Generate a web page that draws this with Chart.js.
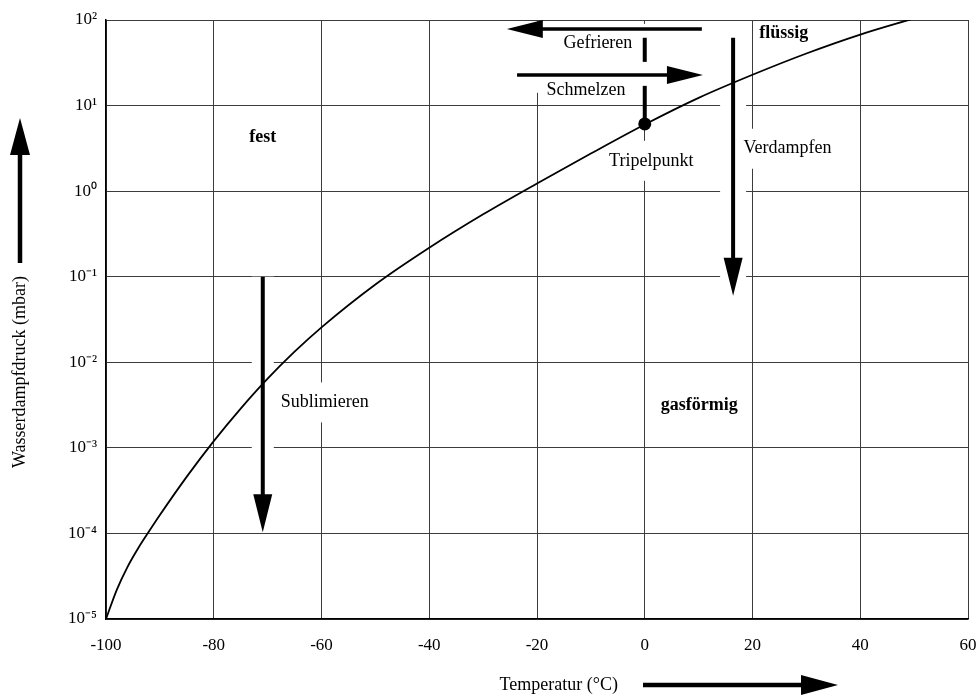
<!DOCTYPE html>
<html>
<head>
<meta charset="utf-8">
<script src="https://cdn.jsdelivr.net/npm/chart.js@4"></script>
<style>
  html, body { margin: 0; padding: 0; background: #fff; overflow: hidden; }
  #wrap { width: 980px; height: 700px; }
  canvas { display: block; }
</style>
</head>
<body>
<div id="wrap"><canvas id="chart-dampfdruck" width="980" height="700"></canvas></div>
<script>
// Dampfdruckkurve von Wasser/Eis
const temperaturen = [-100, -98, -96, -94, -92, -90, -85, -80, -75, -70, -65, -60, -50, -40, -30, -20, -10, 0, 10, 20, 30, 40, 50];
const druck = [1.0e-5, 2.19e-5, 4.07e-5, 6.76e-5, 1.06e-4, 1.64e-4, 4.61e-4, 1.20e-3, 2.88e-3, 6.44e-3, 0.0133, 0.0256, 0.0811, 0.218, 0.536, 1.23, 2.75, 6.01, 12.3, 22.9, 40.6, 67.5, 104.5];
const xTicks = [-100, -80, -60, -40, -20, 0, 20, 40, 60];
const yTicks = [1e-5, 1e-4, 1e-3, 1e-2, 1e-1, 1e0, 1e1, 1e2];
const tripelpunkt = { t: 0, p: 6.1 };

const SERIF = "'Liberation Serif', 'Times New Roman', serif";

// Beschriftungen im Diagramm (Datenkoordinaten)
const beschriftungen = [
    { text: 'fest', t: -70.9, p: 4.3, bold: true },
    { text: 'flüssig', t: 25.8, p: 70.5, bold: true },
    { text: 'gasförmig', t: 10.1, p: 3.1e-3, bold: true },
    { text: 'Gefrieren', t: -8.7, p: 54, box: 6 },
    { text: 'Schmelzen', t: -10.9, p: 15.2, box: 6 },
    { text: 'Tripelpunkt', t: 1.2, p: 2.26, box: 20 },
    { text: 'Verdampfen', t: 26.5, p: 3.13, box: 20 },
    { text: 'Sublimieren', t: -59.4, p: 3.4e-3, box: 20 }
];

// Pfeile: von -> nach, halo = weisser Rand der das Gitter unterbricht
const pfeile = [
    { von: [10.6, 78.5], nach: [-25.6, 78.5] },
    { von: [-23.7, 22.8], nach: [10.8, 22.8] },
    { von: [16.4, 62], nach: [16.4, 0.06], halo: 13 },
    { von: [-70.9, 0.1], nach: [-70.9, 1.03e-4], halo: 11 }
];

// dicke Stücke der 0-Linie zwischen den Pfeilen
const nullLinie = [[62, 32.4], [17.0, 6.1]];
const weissesFeld = { t0: -26.9, t1: 13, p0: 90, p1: 14.1 };

function hoch(v) {
    const sup = { '-': '⁻', '0': '⁰', '1': '¹', '2': '²', '3': '³', '4': '⁴', '5': '⁵' };
    const e = String(Math.round(Math.log10(v)));
    return '10' + e.split('').map(c => sup[c]).join('');
}

function pfeil(ctx, x0, y0, x1, y1, breite, kopfLen, kopfHalb) {
    const dx = x1 - x0, dy = y1 - y0;
    const len = Math.hypot(dx, dy);
    const ux = dx / len, uy = dy / len;
    const bx = x1 - ux * kopfLen, by = y1 - uy * kopfLen;
    ctx.strokeStyle = '#000';
    ctx.fillStyle = '#000';
    ctx.lineWidth = breite;
    ctx.beginPath();
    ctx.moveTo(x0, y0);
    ctx.lineTo(bx + ux * 2, by + uy * 2);
    ctx.stroke();
    ctx.beginPath();
    ctx.moveTo(x1, y1);
    ctx.lineTo(bx - uy * kopfHalb, by + ux * kopfHalb);
    ctx.lineTo(bx + uy * kopfHalb, by - ux * kopfHalb);
    ctx.closePath();
    ctx.fill();
}

const annotationen = {
    id: 'annotationen',
    beforeDatasetsDraw(chart) {
        const ctx = chart.ctx;
        const xs = chart.scales.x, ys = chart.scales.y;
        ctx.save();

        // weisses Feld hinter Gefrieren/Schmelzen
        const fx0 = xs.getPixelForValue(weissesFeld.t0), fx1 = xs.getPixelForValue(weissesFeld.t1);
        const fy0 = ys.getPixelForValue(weissesFeld.p0), fy1 = ys.getPixelForValue(weissesFeld.p1);
        ctx.fillStyle = '#fff';
        ctx.fillRect(fx0, fy0, fx1 - fx0, fy1 - fy0);

        // Halos
        pfeile.forEach(a => {
            if (!a.halo) return;
            const x = xs.getPixelForValue(a.von[0]);
            const y0 = ys.getPixelForValue(a.von[1]);
            const y1 = ys.getPixelForValue(a.nach[1]);
            ctx.fillStyle = '#fff';
            ctx.fillRect(x - a.halo, y0, a.halo * 2, y1 - y0 - 6);
        });

        // Texte
        ctx.textAlign = 'center';
        ctx.textBaseline = 'middle';
        beschriftungen.forEach(b => {
            const x = xs.getPixelForValue(b.t), y = ys.getPixelForValue(b.p);
            ctx.font = (b.bold ? 'bold 18px ' : '18px ') + SERIF;
            if (b.box) {
                const w = ctx.measureText(b.text).width;
                ctx.fillStyle = '#fff';
                ctx.fillRect(x - w / 2 - 4, y - b.box, w + 8, b.box * 2);
            }
            ctx.fillStyle = '#000';
            ctx.fillText(b.text, x, y);
        });

        // dicke 0-Linie
        ctx.strokeStyle = '#000';
        ctx.lineWidth = 4;
        const x0 = xs.getPixelForValue(tripelpunkt.t);
        nullLinie.forEach(([a, b]) => {
            ctx.beginPath();
            ctx.moveTo(x0, ys.getPixelForValue(a));
            ctx.lineTo(x0, ys.getPixelForValue(b));
            ctx.stroke();
        });

        // Pfeile
        pfeile.forEach(a => {
            const vertikal = a.von[0] === a.nach[0];
            pfeil(ctx,
                xs.getPixelForValue(a.von[0]), ys.getPixelForValue(a.von[1]),
                xs.getPixelForValue(a.nach[0]), ys.getPixelForValue(a.nach[1]),
                vertikal ? 4 : 3.5, vertikal ? 38 : 36, vertikal ? 9.5 : 9);
        });
        ctx.restore();
    },
    afterDraw(chart) {
        const ctx = chart.ctx;
        ctx.save();
        ctx.fillStyle = '#000';
        ctx.font = '18px ' + SERIF;
        ctx.textBaseline = 'middle';

        // x-Achsentitel + Pfeil
        ctx.textAlign = 'right';
        ctx.fillText('Temperatur (°C)', 618, 685);
        pfeil(ctx, 643, 685, 838, 685, 4.5, 37, 10);

        // y-Achsentitel + Pfeil
        ctx.save();
        ctx.translate(20, 372);
        ctx.rotate(-Math.PI / 2);
        ctx.textAlign = 'center';
        ctx.fillText('Wasserdampfdruck (mbar)', 0, 0);
        ctx.restore();
        pfeil(ctx, 20, 263, 20, 118, 4.5, 37, 10);
        ctx.restore();
    }
};

const gitter = { color: '#3c3c3c', lineWidth: 1, drawTicks: false };

new Chart(document.getElementById('chart-dampfdruck'), {
    type: 'line',
    data: {
        datasets: [{
            data: temperaturen.map((t, i) => ({ x: t, y: druck[i] })),
            borderColor: '#000',
            borderWidth: 1.8,
            pointRadius: 0,
            cubicInterpolationMode: 'monotone',
            fill: false
        }, {
            data: [{ x: tripelpunkt.t, y: tripelpunkt.p }],
            showLine: false,
            pointRadius: 6.5,
            pointBackgroundColor: '#000',
            pointBorderWidth: 0
        }]
    },
    options: {
        responsive: false,
        animation: false,
        layout: { autoPadding: false, padding: { top: 20, right: 12, bottom: 0, left: 0 } },
        plugins: {
            legend: { display: false },
            tooltip: { enabled: false }
        },
        scales: {
            x: {
                type: 'linear',
                min: -100,
                max: 60,
                afterBuildTicks: s => { s.ticks = xTicks.map(v => ({ value: v })); },
                afterFit: s => { s.height = 81; s.paddingLeft = 0; s.paddingRight = 0; },
                ticks: {
                    color: '#000',
                    font: { family: SERIF, size: 17 },
                    padding: 16,
                    maxRotation: 0
                },
                grid: gitter,
                border: { color: '#000', width: 1.5 }
            },
            y: {
                type: 'logarithmic',
                min: 1e-5,
                max: 100,
                afterBuildTicks: s => { s.ticks = yTicks.map(v => ({ value: v })); },
                afterFit: s => { s.width = 106; s.paddingTop = 0; s.paddingBottom = 0; },
                ticks: {
                    color: '#000',
                    font: { family: SERIF, size: 17 },
                    padding: 9,
                    callback: v => hoch(v)
                },
                grid: gitter,
                border: { color: '#000', width: 1.5 }
            }
        }
    },
    plugins: [annotationen]
});
</script>
</body>
</html>
